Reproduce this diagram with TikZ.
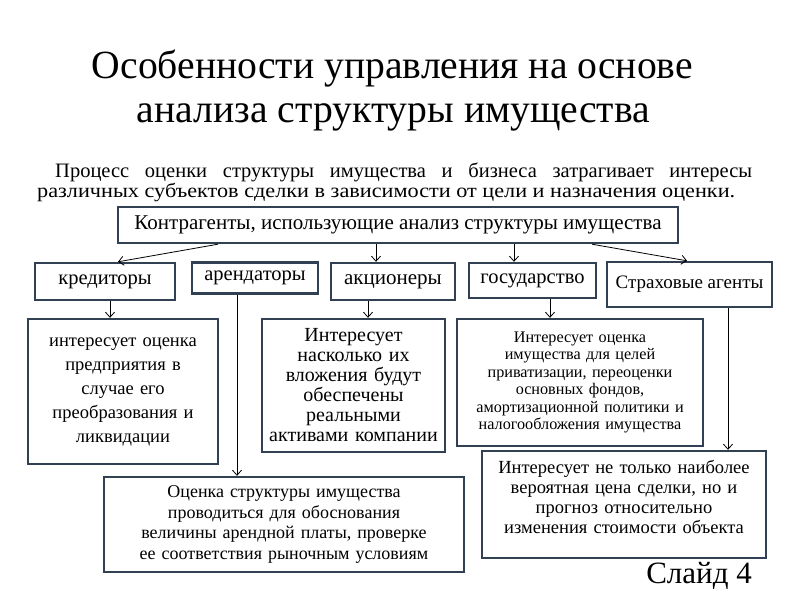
\documentclass[tikz,border=0pt]{standalone}
\usepackage{fontspec}
\usepackage{graphicx}
\setmainfont{Liberation Serif}
\usetikzlibrary{arrows.meta,calc}
\definecolor{boxline}{RGB}{50,64,84}
\newcommand{\fsz}[1]{\fontsize{#1}{1.2\dimexpr#1pt\relax}\selectfont}
\newcommand{\fitw}[2]{\resizebox{#1}{\height}{#2}}
\tikzset{
  box/.style={draw=boxline, line width=2.4pt, fill=white, inner sep=1pt, align=center},
  arr/.style={draw=black, line width=0.8pt, -{Straight Barb[length=5pt,width=9pt]}},
  plain/.style={inner sep=0pt, anchor=base},
}
\begin{document}
\begin{tikzpicture}[x=1pt,y=-1pt]
\useasboundingbox[fill=white] (0,0) rectangle (800,600);
% title
\node[plain, font=\fontsize{40}{44}\selectfont] (title1) at (392.5,78)
  {\fitw{601pt}{Особенности управления на основе}};
\node[plain, font=\fontsize{40}{44}\selectfont] (title2) at (393.5,122)
  {\fitw{513pt}{анализа структуры имущества}};
% paragraph
\node[plain, anchor=base west, font=\fontsize{20.5}{20}\selectfont] (para1) at (55,177)
  {\makebox[697pt][s]{Процесс оценки структуры имущества и бизнеса затрагивает интересы}};
\node[plain, anchor=base west, font=\fontsize{20}{20}\selectfont] (para2) at (37,197)
  {\fitw{698pt}{различных субъектов сделки в зависимости от цели и назначения оценки.}};
% top box
\node[box, minimum width=560pt, minimum height=36pt, font=\fsz{21}] (top) at (398,225)
  {Контрагенты, использующие анализ структуры имущества};
% row
\node[box, minimum width=140pt, minimum height=37pt, font=\fsz{20.5}] (kred) at (105,281.5) {кредиторы};
\node[box, minimum width=126pt, minimum height=31pt, font=\fsz{20.5}] (arend) at (255,278) {арендаторы};
\node[box, minimum width=124pt, minimum height=37pt, font=\fsz{21}] (akc) at (393,281.5) {акционеры};
\node[box, minimum width=127pt, minimum height=35pt, font=\fsz{20.5}] (gos) at (532.5,280.5) {государство};
\node[box, minimum width=165pt, minimum height=45pt, font=\fsz{19}] (strah) at (689.5,284.5) {Страховые агенты};
% second row
\node[box, minimum width=190pt, minimum height=145pt, text width=184pt, font=\fontsize{18.5}{24}\selectfont] (kredI) at (123,391.5)
  {интересует оценка\\предприятия в\\случае его\\преобразования и\\ликвидации};
\node[box, minimum width=183pt, minimum height=133pt, text width=179pt, font=\fontsize{20}{20}\selectfont] (akcI) at (353.5,385.5)
  {Интересует\\насколько их\\вложения будут\\обеспечены\\реальными\\активами компании};
\node[box, minimum width=246pt, minimum height=127pt, text width=240pt, font=\fontsize{16.2}{17.5}\selectfont] (gosI) at (580,382.5)
  {Интересует оценка\\имущества для целей\\приватизации, переоценки\\основных фондов,\\амортизационной политики и\\налогообложения имущества};
\node[box, minimum width=284pt, minimum height=107pt] (strahI) at (624,504.5) {};
\node[align=center, inner sep=0pt, text width=278pt, font=\fontsize{18.5}{20}\selectfont] (strahT) at (624,497)
  {Интересует не только наиболее\\вероятная цена сделки, но и\\прогноз относительно\\изменения стоимости объекта};
\node[box, minimum width=360pt, minimum height=95pt, text width=354pt, font=\fontsize{18}{20.5}\selectfont] (arendI) at (284,524.5)
  {Оценка структуры имущества\\проводиться для обоснования\\величины арендной платы, проверке\\ее соответствия рыночным условиям};
% slide number
\node[plain, anchor=base east, font=\fontsize{31}{33}\selectfont] (slide) at (752,583) {Слайд 4};
% arrows
\draw[arr] ([xshift=-180pt]top.south) -- ([xshift=13pt]kred.north);
\draw[arr] ([xshift=-22pt]top.south) -- ([xshift=-17pt]akc.north);
\draw[arr] ([xshift=116pt]top.south) -- ([xshift=-18.5pt]gos.north);
\draw[arr] ([xshift=194pt]top.south) -- ([xshift=-2.5pt]strah.north);
\draw[arr] ([xshift=5pt]kred.south) -- ([xshift=5pt]kred.south |- kredI.north);
\draw[arr] ([xshift=-18pt]arend.south) -- ([xshift=-18pt]arend.south |- arendI.north);
\draw[arr] ([xshift=-25pt]akc.south) -- ([xshift=-25pt]akc.south |- akcI.north);
\draw[arr] ([xshift=17.5pt]gos.south) -- ([xshift=17.5pt]gos.south |- gosI.north);
\draw[arr] ([xshift=38.5pt]strah.south) -- ([xshift=38.5pt]strah.south |- strahI.north);
\end{tikzpicture}
\end{document}
